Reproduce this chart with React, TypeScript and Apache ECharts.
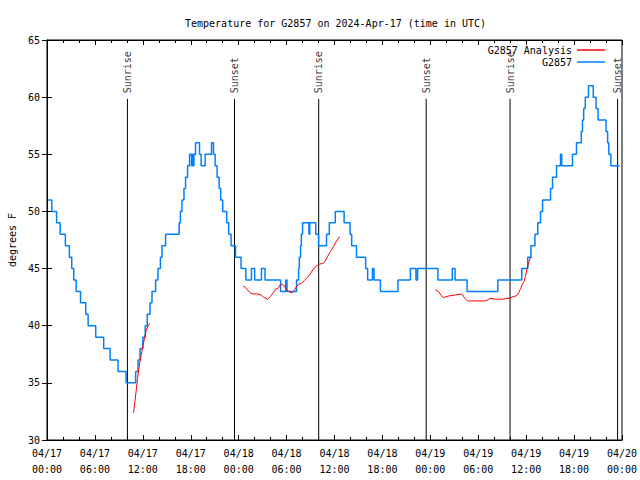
import React, { useEffect, useRef } from "react";
import * as echarts from "echarts";

// hours since 2024-04-17 00:00 UTC
const blueName = "G2857";
const redName = "G2857 Analysis";

// observed temperature, [hour at which the level starts, °F]
const observed: [number, number][] = [
  [0.15, 51], [0.6, 50], [1.2, 49], [1.65, 48], [2.3, 47], [2.8, 46], [3.1, 45], [3.35, 44],
  [3.65, 43], [4.2, 42], [4.85, 41], [5.15, 40], [6.1, 39], [7.1, 38], [7.9, 37], [8.9, 36],
  [9.9, 35], [11.1, 36], [11.4, 37], [11.65, 38], [12.0, 39], [12.3, 40], [12.55, 41], [12.9, 42],
  [13.15, 43], [13.6, 44], [13.9, 45], [14.2, 46], [14.4, 47], [14.85, 48], [16.55, 49], [16.7, 50],
  [16.9, 51], [17.15, 52], [17.35, 53], [17.6, 54], [17.85, 55], [18.1, 54], [18.2, 55], [18.3, 54],
  [18.4, 55], [18.6, 56], [19.1, 55], [19.3, 54], [19.8, 55], [20.6, 56], [20.85, 55], [21.05, 54],
  [21.3, 53], [21.55, 52], [21.75, 51], [22.0, 50], [22.5, 49], [22.75, 48], [23.05, 47], [23.6, 46],
  [24.3, 45], [24.9, 44], [25.6, 45], [26.0, 44], [26.85, 45], [27.3, 44], [29.25, 43], [29.9, 44],
  [30.05, 43], [31.25, 44], [31.5, 45], [31.6, 46], [31.75, 47], [31.85, 48], [32.0, 49], [32.8, 48],
  [32.9, 49], [33.65, 48], [34.0, 47], [35.0, 48], [35.35, 49], [36.1, 50], [37.2, 49], [37.95, 48],
  [38.15, 47], [38.75, 46], [39.9, 45], [40.15, 44], [40.75, 45], [40.95, 44], [41.75, 43], [43.95, 44],
  [45.5, 45], [46.2, 44], [46.4, 45], [48.95, 44], [50.75, 45], [51.1, 44], [52.6, 43], [56.45, 44],
  [59.45, 45], [60.2, 46], [60.6, 47], [61.1, 48], [61.45, 49], [61.8, 50], [62.05, 51], [63.05, 52],
  [63.3, 53], [63.8, 54], [64.3, 55], [64.45, 54], [65.8, 55], [66.3, 56], [66.9, 57], [67.05, 58],
  [67.2, 59], [67.4, 60], [67.8, 61], [68.4, 60], [68.75, 59], [69.0, 58], [70.0, 57], [70.2, 56],
  [70.35, 55], [70.6, 54], [71.7, 54],
];

// analysis, three separate runs
const analysis1: [number, number][] = [
  [10.84, 32.4], [11.0, 33.3], [11.18, 34.4], [11.34, 35.4], [11.51, 36.3], [11.68, 37.0],
  [11.84, 37.6], [12.01, 38.2], [12.2, 38.9], [12.43, 39.6], [12.6, 39.9], [12.84, 40.2],
];
const analysis2: [number, number][] = [
  [24.53, 43.48], [24.86, 43.36], [25.11, 43.13], [25.44, 42.9], [25.69, 42.78], [26.36, 42.78],
  [26.78, 42.69], [27.11, 42.49], [27.61, 42.31], [27.95, 42.54], [28.28, 42.84], [28.61, 43.19],
  [28.95, 43.27], [29.2, 43.57], [29.45, 43.65], [29.61, 43.57], [29.79, 43.36], [30.04, 43.13],
  [30.36, 42.95], [30.7, 42.89], [30.95, 43.07], [31.29, 43.48], [31.54, 43.65], [31.87, 43.71],
  [32.2, 43.94], [32.62, 44.24], [32.95, 44.53], [33.29, 44.88], [33.62, 45.17], [34.04, 45.37],
  [34.54, 45.46], [34.79, 45.6], [35.12, 46.04], [35.46, 46.48], [35.87, 46.92], [36.21, 47.35],
  [36.62, 47.79],
];
const analysis3: [number, number][] = [
  [48.64, 43.13], [49.06, 42.98], [49.31, 42.69], [49.64, 42.46], [49.97, 42.54], [50.48, 42.63],
  [51.14, 42.69], [51.81, 42.78], [52.06, 42.69], [52.31, 42.4], [52.64, 42.17], [54.86, 42.17],
  [55.14, 42.25], [55.48, 42.4], [56.32, 42.31], [57.15, 42.34], [57.9, 42.4], [58.32, 42.54],
  [58.82, 42.63], [59.07, 42.89], [59.32, 43.27], [59.57, 43.71], [59.73, 43.86], [59.9, 44.29],
  [60.08, 44.88], [60.24, 45.31], [60.49, 45.9], [60.7, 46.0],
];

const sunEvents = ["Sunrise", "Sunset", "Sunrise", "Sunset", "Sunrise", "Sunset"];
const sunHours = [10.07, 23.48, 34.02, 47.48, 57.98, 71.45];
const sunLineTop = 59.85;
const yMin = 30;

const FONT = "DejaVu Sans Mono";

function hourLabel(v: number): string {
  const day = 17 + Math.floor(v / 24);
  const hh = Math.round(v % 24);
  return `04/${day}\n${hh < 10 ? "0" + hh : hh}:00`;
}

export default function App() {
  const ref = useRef<HTMLDivElement>(null);
  useEffect(() => {
    if (!ref.current) return;
    document.body.style.margin = "0";
    document.body.style.overflow = "hidden";
    const chart = echarts.init(ref.current, null, { renderer: "svg" });
    const tickStyle = { color: "#000", width: 1 };
    const xCommon = {
      type: "value" as const,
      min: 0,
      max: 72,
      interval: 6,
      axisLine: { show: true, lineStyle: { color: "#000" } },
      axisTick: { show: true, inside: true, length: 5, lineStyle: tickStyle },
      minorTick: { show: true, splitNumber: 3, length: 3, lineStyle: tickStyle },
      splitLine: { show: false },
    };
    const yCommon = {
      type: "value" as const,
      min: 30,
      max: 65,
      interval: 5,
      axisLine: { show: true, lineStyle: { color: "#000" } },
      axisTick: { show: true, inside: true, length: 5, lineStyle: tickStyle },
      splitLine: { show: false },
    };
    const redSeries = [analysis1, analysis2, analysis3].map((d) => ({
      name: redName,
      type: "line",
      data: d,
      showSymbol: false,
      symbol: "none",
      color: "#ff0000",
      lineStyle: { color: "#ff0000", width: 1 },
      z: 3,
    }));
    const sunLines = sunHours.map((h) => ({
      type: "line",
      data: [[h, yMin], [h, sunLineTop]],
      symbol: "none",
      silent: true,
      lineStyle: { color: "#000", width: 1 },
      z: 1,
    }));
    chart.setOption({
      animation: false,
      textStyle: { fontFamily: FONT },
      title: {
        text: "Temperature for G2857 on 2024-Apr-17 (time in UTC)",
        left: 180,
        top: 13,
        textStyle: { fontFamily: FONT, fontSize: 10, fontWeight: "normal", color: "#000" },
      },
      legend: {
        data: [redName, blueName],
        orient: "vertical",
        right: 30,
        top: 39,
        align: "right",
        itemGap: 0,
        itemWidth: 28,
        itemHeight: 1.5,
        icon: "rect",
        textStyle: { fontFamily: FONT, fontSize: 10, color: "#000", lineHeight: 12 },
      },
      grid: {
        left: 47,
        right: 18,
        top: 40,
        bottom: 40,
        show: true,
        borderColor: "#000",
        borderWidth: 1,
        containLabel: false,
        outerBoundsMode: "none",
      },
      xAxis: [
        {
          ...xCommon,
          position: "bottom",
          axisLabel: {
            formatter: hourLabel,
            fontFamily: FONT,
            fontSize: 10,
            color: "#000",
            lineHeight: 16,
            margin: 5,
            hideOverlap: false,
          },
        },
        { ...xCommon, position: "top", axisLabel: { show: false } },
      ],
      yAxis: [
        {
          ...yCommon,
          position: "left",
          name: "degrees F",
          nameLocation: "middle",
          nameRotate: 90,
          nameGap: 30,
          nameTextStyle: { fontFamily: FONT, fontSize: 10, color: "#000" },
          axisLabel: { fontFamily: FONT, fontSize: 10, color: "#000", margin: 7 },
        },
        { ...yCommon, position: "right", axisLabel: { show: false } },
      ],
      series: [
        ...sunLines,
        {
          type: "scatter",
          silent: true,
          symbolSize: 1,
          itemStyle: { color: "rgba(0,0,0,0)" },
          data: sunHours.map((h, i) => ({ value: [h, sunLineTop], name: sunEvents[i] })),
          label: {
            show: true,
            formatter: "{b}",
            position: "top",
            distance: 5,
            rotate: 90,
            align: "left",
            verticalAlign: "middle",
            fontFamily: FONT,
            fontSize: 10,
            color: "#000",
          },
        },
        ...redSeries,
        {
          name: blueName,
          type: "line",
          step: "end",
          data: observed,
          showSymbol: false,
          symbol: "none",
          color: "#0080ff",
          lineStyle: { color: "#0080ff", width: 1.5 },
          z: 2,
        },
      ],
    });
    return () => chart.dispose();
  }, []);
  return <div ref={ref} style={{ width: 640, height: 480 }} />;
}
